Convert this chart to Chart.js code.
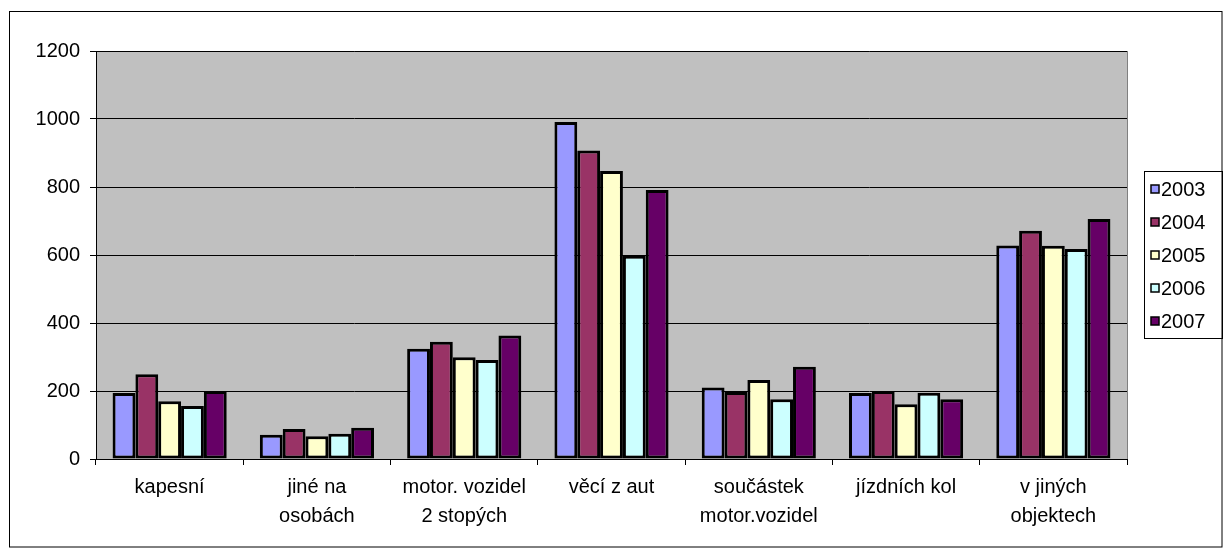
<!DOCTYPE html>
<html>
<head>
<meta charset="utf-8">
<script src="https://cdn.jsdelivr.net/npm/chart.js@4"></script>
<style>
  html, body { margin: 0; padding: 0; background: #fff; }
  #wrap { width: 1223px; height: 548px; position: relative; }
</style>
</head>
<body>
<div id="wrap"><canvas id="myChart" width="1223" height="548"></canvas></div>
<script>
// kategorie
var categories = [
    'kapesní',
    ['jiné na', 'osobách'],
    ['motor. vozidel', '2 stopých'],
    'věcí z aut',
    ['součástek', 'motor.vozidel'],
    'jízdních kol',
    ['v jiných', 'objektech']
];

var years = ['2003', '2004', '2005', '2006', '2007'];

var values2003 = [194, 71, 324, 991, 210, 194, 628];
var values2004 = [249, 88, 345, 907, 197, 200, 671];
var values2005 = [170, 67, 299, 847, 232, 161, 627];
var values2006 = [156, 74, 291, 598, 176, 195, 618];
var values2007 = [200, 92, 363, 791, 271, 176, 706];

var yTicks = [0, 200, 400, 600, 800, 1000, 1200];

var colors = ['#9999FF', '#993366', '#FFFFCC', '#CCFFFF', '#660066'];
var allValues = [values2003, values2004, values2005, values2006, values2007];

var FONT = '"Liberation Sans", Arial, sans-serif';

var datasets = years.map(function (y, i) {
    return {
        label: y,
        data: allValues[i],
        backgroundColor: colors[i],
        borderColor: '#000',
        borderWidth: 3,
        borderSkipped: false,
        barPercentage: 1.0,
        categoryPercentage: 0.775
    };
});

// pozadi grafu a ramecek
var framePlugin = {
    id: 'frame',
    beforeDraw: function (chart) {
        var ctx = chart.ctx;
        var a = chart.chartArea;
        ctx.save();
        ctx.fillStyle = '#fff';
        ctx.fillRect(0, 0, chart.width, chart.height);
        ctx.strokeStyle = '#000';
        ctx.lineWidth = 1;
        ctx.strokeRect(9.5, 11.5, chart.width - 10.5, chart.height - 12.5);
        ctx.fillStyle = '#C0C0C0';
        ctx.fillRect(a.left, a.top, a.right - a.left, a.bottom - a.top);
        ctx.strokeStyle = '#808080';
        ctx.strokeRect(a.left + 0.5, a.top + 0.5, a.right - a.left, a.bottom - a.top);
        ctx.restore();
    },
    afterDraw: function (chart) {
        // legenda
        var ctx = chart.ctx;
        ctx.save();
        ctx.strokeStyle = '#000';
        ctx.lineWidth = 1;
        ctx.strokeRect(1144.5, 171.5, 78, 167);
        ctx.font = '20px ' + FONT;
        ctx.textBaseline = 'middle';
        chart.data.datasets.forEach(function (ds, i) {
            var cy = 189 + i * 33;
            ctx.fillStyle = ds.backgroundColor;
            ctx.fillRect(1151, cy - 4, 8, 8);
            ctx.strokeStyle = '#000';
            ctx.lineWidth = 1.5;
            ctx.strokeRect(1151, cy - 4, 8, 8);
            ctx.fillStyle = '#000';
            ctx.fillText(ds.label, 1161, cy + 1);
        });
        ctx.restore();
    }
};

var ctx = document.getElementById('myChart').getContext('2d');
var chart = new Chart(ctx, {
    type: 'bar',
    data: {
        labels: categories,
        datasets: datasets
    },
    options: {
        responsive: false,
        animation: false,
        layout: {
            padding: { left: 0, top: 51, right: 96, bottom: 0 }
        },
        plugins: {
            legend: { display: false },
            tooltip: { enabled: false }
        },
        scales: {
            x: {
                grid: {
                    offset: true,
                    drawOnChartArea: false,
                    drawTicks: true,
                    tickLength: 6,
                    color: '#000'
                },
                border: { color: '#000', width: 1 },
                ticks: {
                    color: '#000',
                    font: { family: FONT, size: 20, lineHeight: 1.45 },
                    padding: 8,
                    maxRotation: 0,
                    autoSkip: false
                },
                afterFit: function (scale) { scale.height = 89; }
            },
            y: {
                min: 0,
                max: 1200,
                afterBuildTicks: function (scale) {
                    scale.ticks = yTicks.map(function (v) { return { value: v }; });
                },
                grid: {
                    color: '#000',
                    lineWidth: 1,
                    tickLength: 6
                },
                border: { color: '#000', width: 1 },
                ticks: {
                    color: '#000',
                    font: { family: FONT, size: 20 },
                    padding: 10,
                    callback: function (value) { return String(value); }
                },
                afterFit: function (scale) { scale.width = 96; }
            }
        }
    },
    plugins: [framePlugin]
});
</script>
</body>
</html>
